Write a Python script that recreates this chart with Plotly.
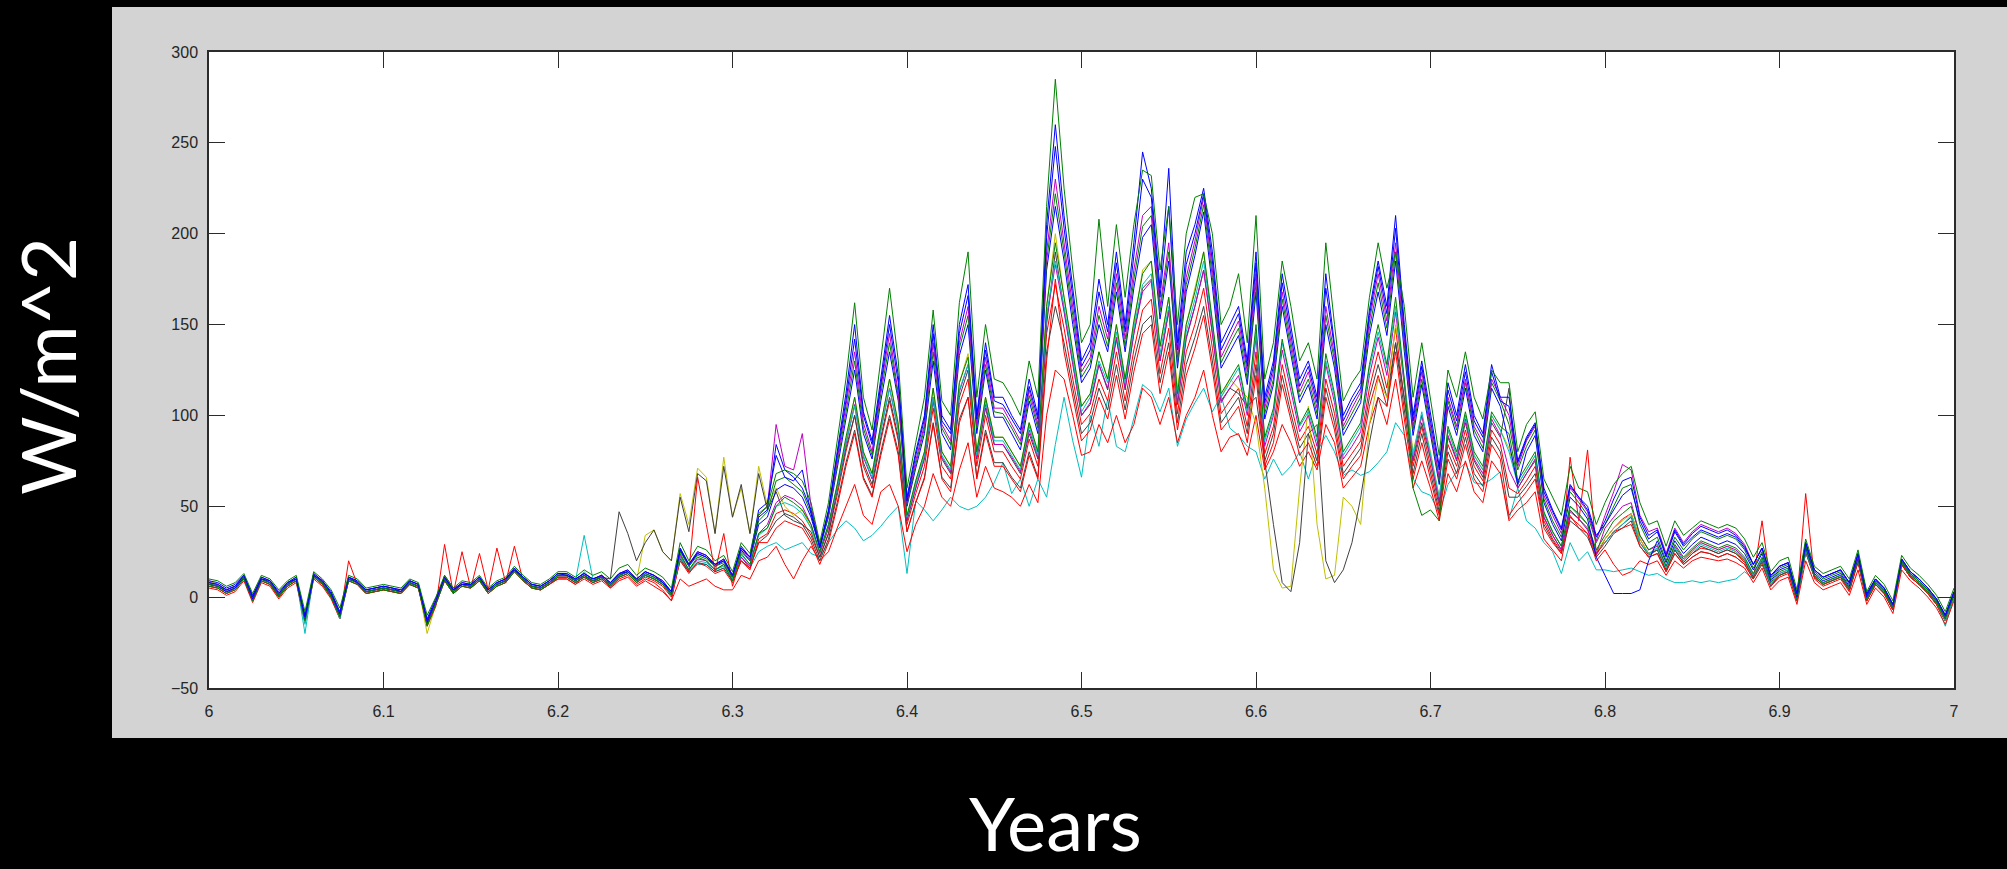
import plotly.graph_objects as go

# x grid: years 6.000 .. 7.000 in steps of 0.005 (201 samples)
years = [round(6 + 0.005 * i, 3) for i in range(201)]

green_top = [
    10, 9, 6, 8, 13, 2, 12, 10, 4, 9,
    12, -8, 14, 10, 4, -6, 12, 10, 5, 6,
    7, 6, 5, 10, 8, -10, 0, 12, 5, 9,
    8, 12, 5, 9, 11, 17, 12, 8, 7, 10,
    14, 14, 11, 15, 12, 14, 10, 16, 18, 12,
    16, 14, 11, 5, 30, 20, 28, 26, 20, 23,
    14, 30, 24, 46, 50, 68, 70, 68, 64, 52,
    30, 52, 85, 120, 162, 110, 92, 130, 170, 130,
    60, 85, 110, 158, 108, 100, 162, 190, 110, 150,
    120, 118, 110, 100, 130, 110, 215, 285, 225, 180,
    140, 150, 208, 160, 205, 165, 205, 235, 232, 180,
    215, 150, 200, 220, 222, 200, 150, 160, 178, 140,
    210, 120, 140, 185, 160, 130, 140, 120, 195, 150,
    108, 118, 125, 165, 195, 170, 190, 160, 110, 140,
    108, 78, 125, 110, 135, 110, 98, 125, 118, 118,
    80, 95, 102, 65, 55, 45, 72, 60, 58, 40,
    52, 62, 68, 72, 52, 40, 42, 28, 42, 34,
    38, 42, 40, 38, 40, 38, 32, 22, 30, 14,
    20, 22, 4, 32, 17, 13, 15, 17, 10, 26,
    3, 12, 7, -2, 23, 16, 12, 7, 1, -8,
    5]

blue_up = [
    9, 8, 5, 7, 12, 1, 11, 9, 3, 8,
    11, -10, 13, 9, 3, -8, 11, 9, 4, 5,
    6, 5, 4, 9, 7, -12, -1, 11, 4, 8,
    7, 11, 4, 8, 10, 16, 11, 7, 6, 9,
    13, 13, 10, 13, 10, 12, 8, 13, 15, 10,
    14, 12, 9, 3, 27, 18, 25, 23, 18, 21,
    12, 28, 22, 44, 48, 84, 70, 66, 60, 48,
    28, 48, 80, 112, 150, 102, 86, 122, 155, 122,
    55, 80, 100, 150, 100, 92, 150, 172, 100, 140,
    110, 110, 100, 92, 120, 100, 205, 260, 210, 170,
    130, 140, 175, 150, 190, 150, 195, 245, 225, 170,
    236, 140, 190, 205, 225, 190, 140, 150, 160, 130,
    190, 110, 130, 178, 150, 120, 130, 110, 178, 140,
    100, 110, 118, 158, 185, 160, 210, 150, 100, 130,
    100, 72, 118, 100, 128, 100, 90, 128, 110, 110,
    75, 88, 96, 60, 48, 38, 62, 55, 50, 34,
    40, 48, 56, 60, 42, 32, 36, 22, 36, 28,
    33, 37, 35, 33, 35, 33, 27, 18, 27, 11,
    17, 19, 2, 30, 15, 11, 13, 15, 8, 24,
    1, 10, 5, -4, 21, 14, 10, 5, -1, -10,
    3]

blue_three = [
    8, 7, 4, 6, 12, 0, 10, 9, 2, 8,
    10, -11, 12, 9, 2, -9, 11, 8, 4, 5,
    6, 5, 3, 9, 7, -13, -2, 11, 4, 7,
    7, 11, 4, 8, 10, 15, 11, 7, 6, 9,
    13, 12, 10, 13, 10, 12, 8, 13, 14, 10,
    14, 12, 8, 3, 26, 18, 24, 22, 18, 20,
    12, 27, 22, 48, 52, 78, 66, 64, 70, 46,
    27, 47, 78, 108, 142, 100, 84, 118, 150, 118,
    53, 78, 98, 145, 97, 90, 145, 166, 98, 136,
    108, 106, 98, 90, 116, 98, 198, 248, 203, 165,
    127, 136, 168, 146, 184, 146, 188, 230, 220, 165,
    215, 136, 183, 200, 222, 185, 136, 146, 156, 127,
    184, 107, 127, 173, 145, 116, 127, 107, 170, 137,
    97, 107, 115, 155, 182, 156, 203, 146, 97, 127,
    97, 70, 114, 97, 124, 97, 88, 124, 108, 105,
    74, 87, 95, 58, 47, 37, 61, 55, 48, 33,
    42, 54, 64, 66, 44, 34, 37, 23, 37, 29,
    35, 39, 37, 35, 37, 34, 28, 18, 27, 12,
    17, 19, 2, 30, 15, 11, 13, 15, 8, 24,
    2, 10, 5, -4, 21, 14, 10, 5, -1, -10,
    3]

magenta = [
    8, 7, 4, 6, 12, 0, 11, 9, 2, 8,
    11, -11, 13, 9, 2, -9, 11, 9, 4, 5,
    6, 5, 4, 9, 7, -13, -2, 11, 4, 8,
    7, 11, 4, 8, 10, 16, 11, 7, 6, 9,
    13, 13, 10, 13, 10, 12, 8, 13, 15, 10,
    14, 12, 9, 3, 27, 18, 25, 23, 18, 21,
    12, 27, 21, 45, 50, 95, 72, 70, 90, 50,
    29, 46, 75, 105, 135, 96, 80, 115, 145, 112,
    52, 75, 95, 140, 95, 86, 140, 160, 95, 132,
    104, 104, 95, 86, 114, 95, 190, 230, 195, 160,
    124, 132, 160, 142, 178, 142, 180, 210, 215, 160,
    195, 132, 176, 196, 220, 180, 132, 142, 152, 124,
    178, 104, 124, 168, 140, 113, 124, 104, 160, 133,
    94, 104, 113, 152, 178, 152, 195, 142, 94, 124,
    94, 66, 110, 94, 120, 94, 85, 120, 110, 100,
    72, 86, 94, 56, 45, 35, 60, 54, 47, 31,
    45, 58, 73, 70, 45, 36, 38, 24, 38, 30,
    36, 40, 38, 36, 38, 35, 29, 18, 27, 12,
    17, 19, 2, 30, 15, 11, 13, 15, 8, 23,
    2, 10, 5, -4, 21, 14, 10, 5, -1, -10,
    3]

green_three = [
    7, 6, 4, 6, 11, 0, 10, 8, 1, 7,
    10, -12, 12, 8, 1, -10, 10, 8, 3, 4,
    5, 4, 3, 8, 6, -16, -3, 10, 3, 7,
    6, 10, 3, 7, 9, 15, 10, 6, 5, 8,
    12, 12, 9, 12, 9, 11, 7, 12, 14, 9,
    13, 11, 8, 2, 25, 17, 23, 21, 17, 19,
    11, 25, 20, 42, 47, 64, 66, 62, 58, 46,
    28, 45, 73, 102, 130, 93, 78, 112, 140, 110,
    51, 73, 93, 135, 93, 84, 137, 155, 93, 128,
    102, 101, 93, 84, 111, 93, 185, 222, 190, 155,
    121, 129, 155, 138, 173, 138, 175, 204, 210, 157,
    190, 129, 172, 192, 216, 176, 129, 139, 148, 120,
    173, 101, 120, 164, 137, 110, 120, 101, 155, 130,
    92, 101, 110, 148, 173, 148, 190, 139, 92, 120,
    92, 64, 108, 92, 118, 92, 82, 118, 108, 95,
    70, 83, 92, 54, 42, 33, 58, 52, 45, 30,
    40, 50, 60, 62, 40, 30, 33, 20, 33, 26,
    32, 36, 34, 32, 34, 32, 26, 16, 25, 10,
    16, 18, 1, 29, 14, 10, 12, 14, 7, 23,
    1, 9, 4, -5, 20, 13, 9, 4, -2, -11,
    2]

blue_mid = [
    7, 6, 3, 5, 11, -1, 10, 8, 1, 7,
    10, -12, 12, 8, 1, -10, 10, 8, 3, 4,
    5, 4, 3, 8, 6, -14, -3, 10, 3, 7,
    6, 10, 3, 7, 9, 15, 10, 6, 5, 8,
    12, 12, 9, 12, 9, 11, 7, 12, 14, 9,
    13, 11, 8, 2, 26, 17, 24, 22, 17, 20,
    11, 26, 20, 40, 44, 59, 62, 60, 55, 44,
    27, 44, 71, 99, 125, 90, 76, 108, 135, 108,
    50, 71, 90, 130, 90, 81, 133, 150, 90, 125,
    99, 99, 90, 81, 108, 90, 180, 215, 185, 150,
    118, 126, 150, 135, 168, 135, 170, 198, 205, 153,
    185, 126, 168, 188, 212, 171, 126, 135, 144, 117,
    168, 98, 117, 160, 133, 107, 117, 98, 150, 126,
    89, 98, 107, 144, 168, 144, 185, 135, 89, 117,
    89, 62, 105, 89, 115, 89, 80, 115, 105, 85,
    62, 80, 89, 52, 40, 31, 55, 50, 43, 22,
    12, 2, 2, 2, 4, 20, 31, 19, 31, 24,
    29, 33, 31, 29, 31, 29, 24, 15, 24, 9,
    15, 17, 0, 28, 13, 9, 11, 13, 6, 22,
    0, 9, 4, -5, 20, 13, 9, 4, -2, -11,
    2]

green_mid = [
    6, 5, 2, 4, 10, -2, 9, 7, 0, 6,
    9, -13, 11, 7, 0, -11, 9, 7, 2, 3,
    4, 3, 2, 7, 5, -15, -4, 9, 2, 6,
    5, 9, 2, 6, 8, 14, 9, 5, 4, 7,
    11, 11, 8, 11, 8, 10, 6, 11, 13, 8,
    12, 10, 7, 1, 24, 15, 22, 20, 15, 18,
    9, 24, 18, 35, 38, 50, 55, 52, 48, 40,
    25, 40, 62, 88, 110, 80, 68, 95, 120, 95,
    45, 64, 80, 115, 80, 72, 118, 132, 80, 110,
    88, 88, 80, 72, 96, 80, 160, 195, 165, 135,
    105, 112, 135, 120, 150, 120, 152, 178, 185, 138,
    165, 112, 150, 168, 190, 152, 112, 120, 128, 104,
    150, 88, 104, 142, 118, 95, 104, 88, 134, 112,
    80, 88, 96, 128, 150, 128, 165, 120, 60, 45,
    48, 42, 94, 80, 102, 80, 72, 102, 94, 90,
    64, 72, 80, 47, 36, 28, 50, 46, 40, 26,
    34, 42, 46, 50, 34, 26, 29, 17, 29, 22,
    27, 31, 29, 27, 29, 27, 22, 13, 22, 8,
    14, 16, -1, 27, 12, 8, 10, 12, 5, 21,
    -1, 8, 3, -6, 19, 12, 8, 3, -3, -12,
    1]

magenta_two = [
    7, 6, 3, 5, 11, -1, 10, 8, 1, 7,
    10, -12, 12, 8, 1, -10, 10, 8, 3, 4,
    5, 4, 3, 8, 6, -14, -3, 10, 3, 7,
    6, 10, 3, 7, 9, 15, 10, 6, 5, 8,
    11, 11, 8, 11, 8, 10, 6, 11, 13, 8,
    12, 10, 7, 1, 23, 15, 21, 20, 15, 18,
    10, 22, 17, 35, 40, 52, 56, 54, 50, 40,
    24, 38, 60, 84, 106, 77, 65, 92, 115, 92,
    43, 60, 77, 110, 77, 69, 113, 128, 77, 106,
    84, 84, 77, 69, 92, 77, 153, 183, 157, 128,
    100, 107, 128, 115, 143, 115, 145, 168, 174, 130,
    157, 107, 143, 160, 180, 145, 107, 115, 122, 100,
    143, 83, 100, 136, 113, 91, 100, 83, 128, 107,
    76, 83, 91, 122, 143, 122, 157, 115, 76, 100,
    76, 53, 89, 76, 98, 76, 68, 98, 89, 70,
    60, 68, 76, 44, 34, 26, 47, 43, 37, 24,
    38, 44, 50, 52, 34, 26, 28, 17, 28, 21,
    26, 30, 28, 26, 28, 26, 21, 12, 21, 7,
    13, 15, -1, 26, 12, 8, 10, 12, 5, 21,
    -1, 8, 3, -6, 19, 12, 8, 3, -3, -12,
    1]

red_spiky = [
    5, 4, 1, 3, 9, -3, 8, 6, -1, 5,
    8, -14, 10, 6, -1, -12, 20, 7, 2, 3,
    4, 3, 2, 7, 5, -16, -5, 29, 2, 25,
    5, 24, 4, 27, 8, 28, 9, 5, 4, 7,
    10, 10, 7, 12, 8, 12, 5, 10, 12, 7,
    10, 8, 4, -2, 22, 14, 66, 40, 14, 35,
    6, 22, 16, 30, 30, 38, 42, 40, 38, 30,
    18, 30, 50, 72, 90, 65, 55, 78, 98, 78,
    36, 52, 65, 95, 65, 58, 96, 110, 65, 90,
    72, 72, 65, 58, 78, 65, 130, 175, 135, 110,
    86, 92, 110, 98, 122, 98, 124, 145, 150, 112,
    135, 92, 122, 137, 155, 125, 92, 98, 105, 85,
    122, 72, 85, 117, 97, 78, 85, 72, 110, 92,
    65, 72, 78, 105, 122, 105, 135, 98, 65, 85,
    65, 45, 76, 65, 84, 65, 58, 84, 76, 45,
    52, 58, 65, 38, 30, 24, 77, 42, 81, 24,
    30, 36, 38, 40, 28, 22, 24, 14, 24, 18,
    22, 25, 24, 22, 24, 22, 18, 10, 42, 6,
    11, 13, -2, 57, 10, 6, 8, 10, 3, 19,
    -2, 7, 2, -7, 18, 11, 7, 2, -4, -13,
    0]

red_three = [
    6, 5, 2, 5, 10, -2, 9, 7, 0, 6,
    9, -13, 11, 7, 0, -11, 9, 7, 2, 3,
    4, 3, 2, 7, 5, -15, -4, 9, 2, 6,
    5, 9, 2, 6, 8, 14, 9, 5, 4, 7,
    11, 11, 8, 11, 8, 10, 6, 11, 13, 8,
    11, 9, 6, 0, 20, 13, 19, 17, 13, 15,
    8, 20, 15, 32, 35, 46, 48, 46, 42, 34,
    22, 35, 56, 80, 100, 72, 60, 86, 108, 86,
    40, 57, 72, 104, 72, 65, 106, 120, 72, 100,
    80, 80, 72, 65, 87, 72, 145, 172, 148, 120,
    95, 101, 120, 108, 135, 108, 136, 158, 164, 123,
    148, 101, 135, 150, 170, 137, 101, 108, 115, 94,
    135, 79, 94, 128, 106, 86, 94, 79, 120, 101,
    72, 79, 86, 115, 135, 115, 148, 108, 72, 94,
    72, 50, 84, 72, 92, 72, 64, 92, 84, 60,
    57, 64, 72, 42, 32, 25, 44, 40, 35, 23,
    32, 38, 43, 46, 32, 24, 26, 15, 26, 19,
    24, 27, 26, 24, 26, 24, 19, 11, 19, 7,
    12, 14, -2, 25, 11, 7, 9, 11, 4, 20,
    -2, 7, 2, -7, 18, 11, 7, 2, -4, -13,
    0]

red_low = [
    6, 5, 2, 4, 10, -2, 9, 7, 0, 6,
    9, -14, 11, 7, 0, -12, 9, 7, 2, 3,
    4, 3, 2, 7, 5, -15, -4, 9, 2, 6,
    5, 9, 2, 6, 8, 14, 9, 5, 4, 7,
    10, 10, 7, 10, 7, 9, 5, 9, 11, 6,
    9, 6, 3, -2, 10, 6, 8, 10, 6, 4,
    4, 12, 10, 20, 22, 28, 18, 10, 20, 28,
    20, 25, 38, 50, 62, 45, 40, 58, 62, 50,
    25, 40, 50, 68, 55, 50, 70, 85, 55, 72,
    60, 58, 55, 50, 62, 52, 100, 125, 120, 100,
    78, 80, 95, 85, 100, 85, 95, 115, 110, 95,
    110, 85, 100, 110, 125, 100, 80, 88, 90, 78,
    100, 70, 80, 95, 85, 72, 80, 70, 95, 85,
    60, 66, 72, 95, 110, 95, 120, 90, 60, 75,
    60, 42, 68, 58, 75, 58, 52, 75, 68, 42,
    48, 52, 58, 32, 26, 20, 45, 38, 35, 20,
    26, 18, 12, 14, 20, 18, 20, 12, 20, 16,
    20, 22, 21, 20, 21, 19, 16, 8, 16, 4,
    9, 11, -4, 20, 8, 4, 6, 8, 1, 15,
    -4, 5, 0, -9, 15, 9, 5, 0, -6, -15,
    -2]

gray_three = [
    7, 6, 3, 5, 11, -1, 10, 8, 1, 7,
    10, -12, 12, 8, 1, -10, 10, 8, 3, 4,
    5, 4, 3, 8, 6, -14, -3, 10, 3, 7,
    6, 10, 3, 7, 9, 15, 10, 6, 5, 8,
    12, 12, 9, 12, 9, 11, 7, 12, 14, 9,
    12, 10, 7, 1, 21, 14, 19, 18, 14, 16,
    9, 20, 16, 30, 34, 42, 46, 44, 40, 32,
    20, 32, 52, 74, 92, 66, 56, 80, 100, 80,
    36, 52, 66, 96, 66, 60, 98, 110, 66, 92,
    74, 74, 66, 60, 80, 66, 135, 160, 140, 115,
    90, 96, 115, 103, 128, 103, 130, 150, 155, 118,
    140, 96, 128, 143, 160, 130, 96, 103, 110, 90,
    128, 75, 90, 122, 101, 82, 90, 75, 115, 96,
    68, 75, 82, 110, 128, 110, 140, 103, 68, 90,
    68, 47, 80, 68, 88, 68, 61, 88, 80, 55,
    55, 61, 68, 40, 31, 24, 42, 38, 33, 22,
    28, 35, 38, 42, 28, 22, 24, 14, 24, 18,
    22, 25, 24, 22, 24, 22, 18, 10, 18, 6,
    12, 14, -2, 25, 11, 7, 9, 11, 4, 20,
    -2, 7, 2, -7, 18, 11, 7, 2, -4, -13,
    0]

cyan_low = [
    8, 7, 4, 6, 11, 0, 10, 8, 2, 7,
    10, -20, 12, 8, 2, -11, 10, 8, 3, 4,
    5, 4, 3, 8, 6, -13, -3, 10, 3, 7,
    6, 10, 3, 7, 9, 15, 10, 6, 5, 8,
    12, 12, 9, 34, 10, 11, 7, 12, 14, 9,
    12, 10, 7, 2, 20, 14, 18, 18, 14, 16,
    9, 20, 16, 25, 28, 30, 26, 28, 30, 24,
    22, 30, 37, 42, 38, 31, 34, 39, 45, 50,
    13, 53, 48, 42, 48, 55, 50, 48, 50, 55,
    63, 74, 57, 65, 50, 65, 55, 84, 110, 86,
    66, 100, 83, 109, 83, 80, 98, 117, 113, 102,
    115, 83, 98, 107, 115, 102, 111, 93, 89, 83,
    80, 65, 76, 67, 72, 80, 65, 80, 89, 80,
    67, 70, 67, 69, 74, 80, 96, 89, 65, 58,
    56, 46, 62, 69, 74, 63, 62, 65, 69, 43,
    60, 42, 38, 30, 25, 13, 30, 20, 25, 15,
    15, 14, 15, 16, 14, 12, 13, 10, 8, 8,
    9, 8, 9, 8, 9, 10, 14, 10, 20, 6,
    12, 14, -2, 25, 11, 7, 9, 11, 4, 20,
    -2, 8, 3, -6, 19, 12, 8, 3, -3, -16,
    0]

cyan_mid = [
    8, 6, 3, 5, 10, -1, 9, 8, 1, 7,
    10, -15, 11, 8, 1, -12, 10, 8, 3, 4,
    5, 4, 3, 8, 6, -14, -3, 10, 3, 7,
    6, 10, 3, 7, 9, 14, 10, 6, 5, 8,
    12, 12, 9, 14, 9, 11, 7, 12, 14, 9,
    12, 10, 7, 1, 22, 15, 20, 19, 15, 17,
    10, 23, 18, 34, 38, 50, 52, 50, 46, 38,
    25, 40, 60, 85, 105, 78, 66, 92, 115, 92,
    44, 62, 78, 110, 78, 70, 114, 128, 78, 108,
    86, 86, 78, 70, 94, 78, 155, 185, 160, 130,
    102, 110, 130, 118, 146, 118, 148, 172, 178, 134,
    160, 110, 146, 164, 185, 150, 110, 118, 126, 102,
    146, 86, 102, 140, 116, 94, 102, 86, 130, 110,
    78, 86, 94, 126, 146, 126, 160, 118, 78, 102,
    78, 55, 92, 78, 100, 78, 70, 100, 92, 80,
    62, 70, 78, 46, 36, 28, 50, 45, 40, 25,
    30, 36, 40, 45, 30, 24, 27, 16, 27, 20,
    25, 29, 27, 25, 27, 25, 21, 12, 21, 7,
    13, 15, -1, 26, 12, 8, 10, 12, 5, 21,
    -1, 8, 3, -6, 19, 12, 8, 3, -3, -13,
    0]

yellow_dip = [
    9, 7, 4, 6, 11, 0, 10, 8, 2, 7,
    10, -13, 12, 8, 2, -10, 10, 8, 3, 4,
    5, 4, 3, 8, 6, -20, -4, 10, 3, 7,
    6, 10, 3, 7, 9, 15, 10, 6, 5, 8,
    12, 12, 9, 12, 9, 11, 7, 12, 14, 9,
    34, 37, 25, 20, 57, 40, 71, 66, 35, 77,
    44, 60, 35, 72, 50, 60, 50, 45, 48, 38,
    24, 38, 62, 88, 110, 80, 68, 95, 120, 96,
    44, 64, 80, 115, 80, 72, 118, 134, 80, 110,
    88, 88, 80, 72, 96, 80, 160, 200, 165, 135,
    105, 112, 135, 120, 150, 120, 150, 180, 185, 138,
    165, 115, 150, 170, 190, 150, 110, 120, 115, 110,
    95, 60, 15, 5, 6, 60, 105, 40, 10, 12,
    55, 50, 40, 95, 120, 110, 150, 120, 80, 100,
    80, 55, 92, 78, 100, 78, 70, 100, 92, 82,
    62, 70, 78, 46, 36, 28, 50, 45, 40, 25,
    32, 38, 42, 46, 32, 24, 27, 15, 27, 20,
    26, 30, 28, 26, 28, 25, 20, 11, 20, 6,
    12, 14, -2, 25, 11, 7, 9, 11, 4, 20,
    -2, 7, 2, -7, 18, 11, 7, 2, -4, -13,
    0]

gray_dip = [
    8, 6, 3, 5, 11, -1, 10, 8, 1, 7,
    10, -12, 12, 8, 1, -10, 10, 8, 3, 4,
    5, 4, 3, 8, 6, -14, -3, 12, 5, 7,
    6, 10, 3, 7, 9, 15, 10, 6, 5, 8,
    12, 12, 9, 12, 9, 11, 10, 47, 35, 20,
    30, 37, 25, 20, 55, 36, 68, 64, 35, 72,
    44, 62, 35, 68, 48, 58, 45, 42, 40, 36,
    22, 35, 58, 82, 100, 74, 62, 88, 110, 88,
    42, 60, 76, 108, 76, 68, 110, 125, 76, 104,
    84, 84, 76, 68, 90, 76, 150, 190, 158, 128,
    100, 106, 128, 114, 142, 114, 145, 170, 175, 130,
    158, 106, 142, 160, 180, 145, 108, 115, 112, 105,
    110, 75, 40, 8, 3, 30, 90, 95, 20, 8,
    15, 30, 55, 85, 110, 105, 140, 110, 75, 96,
    76, 52, 88, 75, 96, 75, 66, 96, 88, 115,
    60, 68, 75, 44, 34, 26, 48, 43, 38, 24,
    30, 36, 40, 44, 30, 23, 26, 15, 26, 19,
    24, 28, 26, 24, 26, 24, 20, 11, 20, 6,
    12, 14, -2, 25, 11, 7, 9, 11, 4, 20,
    -2, 7, 2, -7, 18, 11, 7, 2, -4, -13,
    0]

x_ticks = [6, 6.1, 6.2, 6.3, 6.4, 6.5, 6.6, 6.7, 6.8, 6.9, 7]
x_tick_labels = ["6", "6.1", "6.2", "6.3", "6.4", "6.5", "6.6", "6.7", "6.8", "6.9", "7"]
y_ticks = [-50, 0, 50, 100, 150, 200, 250, 300]

BLUE, GREEN, RED = "#0000ff", "#008000", "#ff0000"
CYAN, MAGENTA, YELLOW, GRAY = "#00bfbf", "#bf00bf", "#bfbf00", "#404040"

series = [
    (cyan_low, CYAN),
    (red_low, RED),
    (gray_three, GRAY),
    (red_three, RED),
    (yellow_dip, YELLOW),
    (gray_dip, GRAY),
    (red_spiky, RED),
    (magenta_two, MAGENTA),
    (cyan_mid, CYAN),
    (green_mid, GREEN),
    (blue_mid, BLUE),
    (green_three, GREEN),
    (magenta, MAGENTA),
    (blue_three, BLUE),
    (blue_up, BLUE),
    (green_top, GREEN),
]

fig = go.Figure()
for vals, col in series:
    assert len(vals) == len(years)
    fig.add_trace(go.Scatter(x=years, y=vals, mode="lines",
                             line=dict(color=col, width=1),
                             showlegend=False, hoverinfo="skip"))

L, T, R, B = 209, 52, 1954, 688
W, H = 2007, 869
pw, ph = R - L, B - T

def px(xp):
    return (xp - L) / pw

def py(yp):
    return (B - yp) / ph

axis_common = dict(showgrid=False, zeroline=False, showline=True, mirror="ticks",
                   linecolor="#2b2b2b", linewidth=1.5, ticks="inside", ticklen=16,
                   tickwidth=1.2, tickcolor="#2b2b2b",
                   tickfont=dict(family="Liberation Sans, Arial, sans-serif",
                                 size=16, color="#262626"))

fig.update_layout(
    width=W, height=H,
    margin=dict(l=L, r=W - R, t=T, b=H - B, pad=0),
    paper_bgcolor="#000000",
    plot_bgcolor="#ffffff",
    xaxis=dict(range=[6, 7], tickmode="array", tickvals=x_ticks,
               ticktext=x_tick_labels, ticklabelstandoff=8, **axis_common),
    yaxis=dict(range=[-50, 300], tickmode="array", tickvals=y_ticks,
               ticklabelstandoff=6, **axis_common),
    shapes=[
        dict(type="rect", xref="paper", yref="paper", layer="below",
             x0=px(112), x1=px(2010), y0=py(738), y1=py(7),
             fillcolor="#d3d3d3", line=dict(width=0)),
        dict(type="rect", xref="paper", yref="paper", layer="below",
             x0=0, x1=1, y0=0, y1=1,
             fillcolor="#ffffff", line=dict(width=0)),
    ],
    annotations=[
        dict(text="Years", xref="paper", yref="paper", x=px(1055), y=py(822),
             xanchor="center", yanchor="middle", showarrow=False,
             font=dict(family="Lato, Open Sans, sans-serif", size=74, color="#ffffff")),
        dict(text="W/m^2", xref="paper", yref="paper", x=px(46), y=py(366),
             xanchor="center", yanchor="middle", showarrow=False, textangle=-90,
             font=dict(family="Lato, Open Sans, sans-serif", size=76, color="#ffffff")),
    ],
)

fig.write_html("out.html")
